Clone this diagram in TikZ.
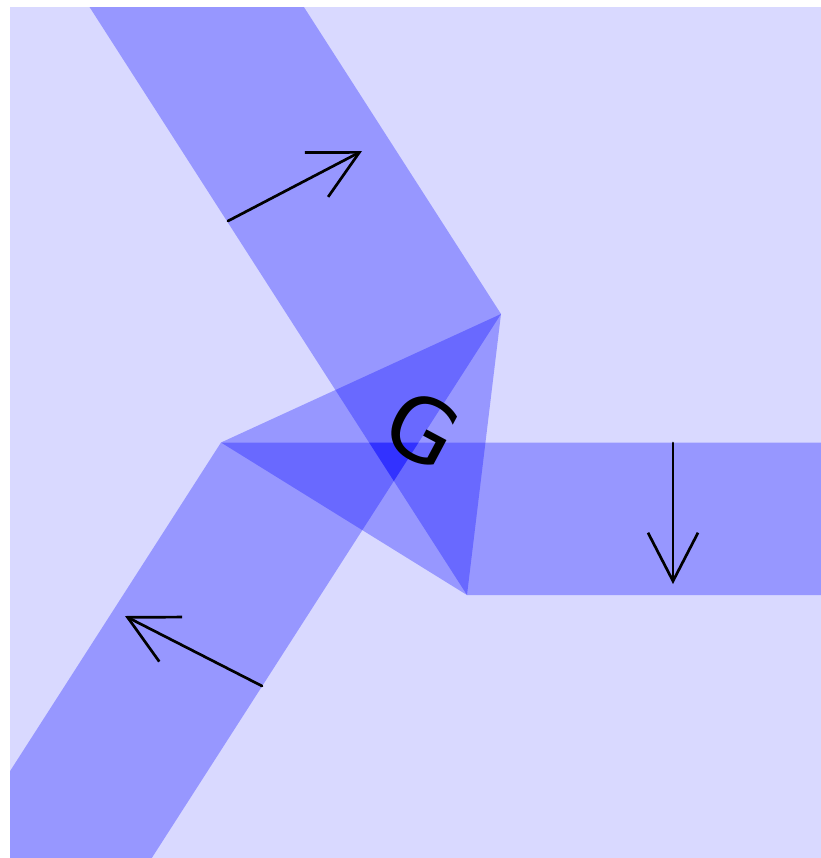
\documentclass[tikz,border=0pt]{standalone}
\usepackage{fontspec}
\newfontfamily\gfont{DejaVu Sans}
\usetikzlibrary{arrows.meta,calc}
\tikzset{
  band/.style={fill=blue, fill opacity=0.3},
  flow/.style={line width=2.3pt, line cap=round, line join=round,
    -{Straight Barb[length=1.45cm,width=1.5cm]}},
}
\begin{document}
\begin{tikzpicture}[x=0.03cm, y=-0.03cm]
  \useasboundingbox (0,0) rectangle (821,858);
  \fill[blue!15] (10,7) rectangle (821,858);
  \clip (10,7) rectangle (821,858);
  % triangle corners
  \coordinate (A) at (501,314);
  \coordinate (B) at (221,442.5);
  \coordinate (C) at (467,595);
  % far ends of the strips
  \coordinate (A1) at ($(A)+(-642,-1000)$);
  \coordinate (C1) at ($(C)+(-642,-1000)$);
  \coordinate (A3) at ($(A)+(-642,1000)$);
  \coordinate (B3) at ($(B)+(-642,1000)$);
  \coordinate (B2) at ($(B)+(1000,0)$);
  \coordinate (C2) at ($(C)+(1000,0)$);
  % inner ends
  \coordinate (P) at (intersection of A--A3 and C--C1);
  \coordinate (Q) at (intersection of A--A3 and B--B2);
  \coordinate (R) at (intersection of C--C1 and B--B2);
  % strips and triangle
  \fill[band] (A) -- (A1) -- (C1) -- (P) -- cycle;
  \fill[band] (B) -- (Q) -- (A3) -- (B3) -- cycle;
  \fill[band] (R) -- (B2) -- (C2) -- (C) -- cycle;
  \fill[band] (A) -- (B) -- (C) -- cycle;
  % arrows
  \coordinate (u0) at (228,221); \coordinate (u1) at (362,151);
  \coordinate (l0) at (262,686); \coordinate (l1) at (125,616);
  \coordinate (r0) at (673,443); \coordinate (r1) at (673,584);
  \draw[flow] (u0) -- (u1);
  \draw[flow] (l0) -- (l1);
  \draw[flow] (r0) -- (r1);
  \node[font={\gfont\fontsize{75}{90}\selectfont}, rotate=-28] (G) at (423,429) {G};
\end{tikzpicture}
\end{document}
